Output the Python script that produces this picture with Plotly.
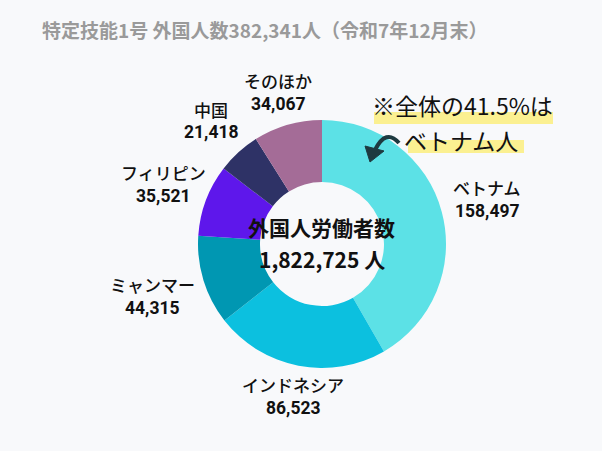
import plotly.graph_objects as go

W, H = 602, 451
labels = ["ベトナム", "インドネシア", "ミャンマー", "フィリピン", "中国", "そのほか"]
values = [158497, 86523, 44315, 35521, 21418, 34067]
colors = ["#5CE1E6", "#0CC0DF", "#0097B2", "#5E17EB", "#2E3266", "#A46C97"]
title_text = "特定技能1号 外国人数382,341人（令和7年12月末）"
center_lines = ["外国人労働者数", "1,822,725 人"]
note_lines = ["※全体の41.5%は", "ベトナム人"]

# label anchor positions in pixels (center x, center y of the two-line block)
label_pos = [(487, 199), (293, 396), (152, 296), (163, 184), (211, 121), (278, 92)]

FONT = "Noto Sans CJK JP"
NUM_FONT = "Roboto"
BG = "#F8F9FB"

def px(x):
    return x / W

def py(y):
    return 1 - y / H

cx, cy, r = 322, 244, 124

fig = go.Figure(go.Pie(
    labels=labels, values=values, sort=False, direction="clockwise", rotation=0,
    hole=0.5,
    marker=dict(colors=colors, line=dict(width=0)),
    textinfo="none",
    domain=dict(x=[px(cx - r), px(cx + r)], y=[py(cy + r), py(cy - r)]),
    showlegend=False,
    hoverinfo="label+value+percent",
))

shapes = [
    dict(type="rect", xref="paper", yref="paper", x0=px(374), x1=px(553), y0=py(124), y1=py(112),
         fillcolor="rgba(252,236,110,0.75)", line=dict(width=0), layer="below"),
    dict(type="rect", xref="paper", yref="paper", x0=px(408), x1=px(524), y0=py(153), y1=py(140),
         fillcolor="rgba(252,236,110,0.75)", line=dict(width=0), layer="below"),
    dict(type="path", xref="paper", yref="paper",
         path=f"M {px(399)},{py(143)} Q {px(386)},{py(128)} {px(375)},{py(150)}",
         line=dict(color="#1E3A40", width=4)),
    dict(type="path", xref="paper", yref="paper",
         path=f"M {px(365)},{py(146)} L {px(384)},{py(151)} L {px(370)},{py(162)} Z",
         fillcolor="#1E3A40", line=dict(color="#1E3A40", width=1)),
]

annotations = [
    dict(x=px(40), y=py(29), xref="paper", yref="paper", xanchor="left", yanchor="middle",
         text=f"<b>{title_text}</b>", showarrow=False,
         font=dict(family=FONT, size=19, color="#9A9A9A")),
    dict(x=px(cx), y=py(227), xref="paper", yref="paper", xanchor="center", yanchor="middle",
         text=f"<b>{center_lines[0]}</b>", showarrow=False,
         font=dict(family=FONT, size=21, color="#111111")),
    dict(x=px(cx), y=py(259), xref="paper", yref="paper", xanchor="center", yanchor="middle",
         text=f"<b>{center_lines[1]}</b>", showarrow=False,
         font=dict(family=FONT, size=21, color="#111111")),
    dict(x=px(462), y=py(105), xref="paper", yref="paper", xanchor="center", yanchor="middle",
         text=note_lines[0], showarrow=False,
         font=dict(family=FONT, size=23, color="#111111")),
    dict(x=px(461), y=py(140), xref="paper", yref="paper", xanchor="center", yanchor="middle",
         text=note_lines[1], showarrow=False,
         font=dict(family=FONT, size=23, color="#111111")),
]

for lab, val, (lx, ly) in zip(labels, values, label_pos):
    annotations.append(dict(
        x=px(lx), y=py(ly - 11.5), xref="paper", yref="paper", xanchor="center", yanchor="middle",
        text=lab, showarrow=False,
        font=dict(family=FONT, size=17, color="#111111", weight=500)))
    annotations.append(dict(
        x=px(lx), y=py(ly + 11.5), xref="paper", yref="paper", xanchor="center", yanchor="middle",
        text=f"<b>{val:,}</b>", showarrow=False,
        font=dict(family=NUM_FONT, size=17.5, color="#111111")))

fig.update_layout(
    width=W, height=H,
    margin=dict(l=0, r=0, t=0, b=0),
    paper_bgcolor=BG, plot_bgcolor=BG,
    shapes=shapes, annotations=annotations,
)

fig.write_html(
    "out.html",
    config={"displayModeBar": False},
    post_script="document.body.style.margin='0';document.body.style.background='#F8F9FB';",
)
